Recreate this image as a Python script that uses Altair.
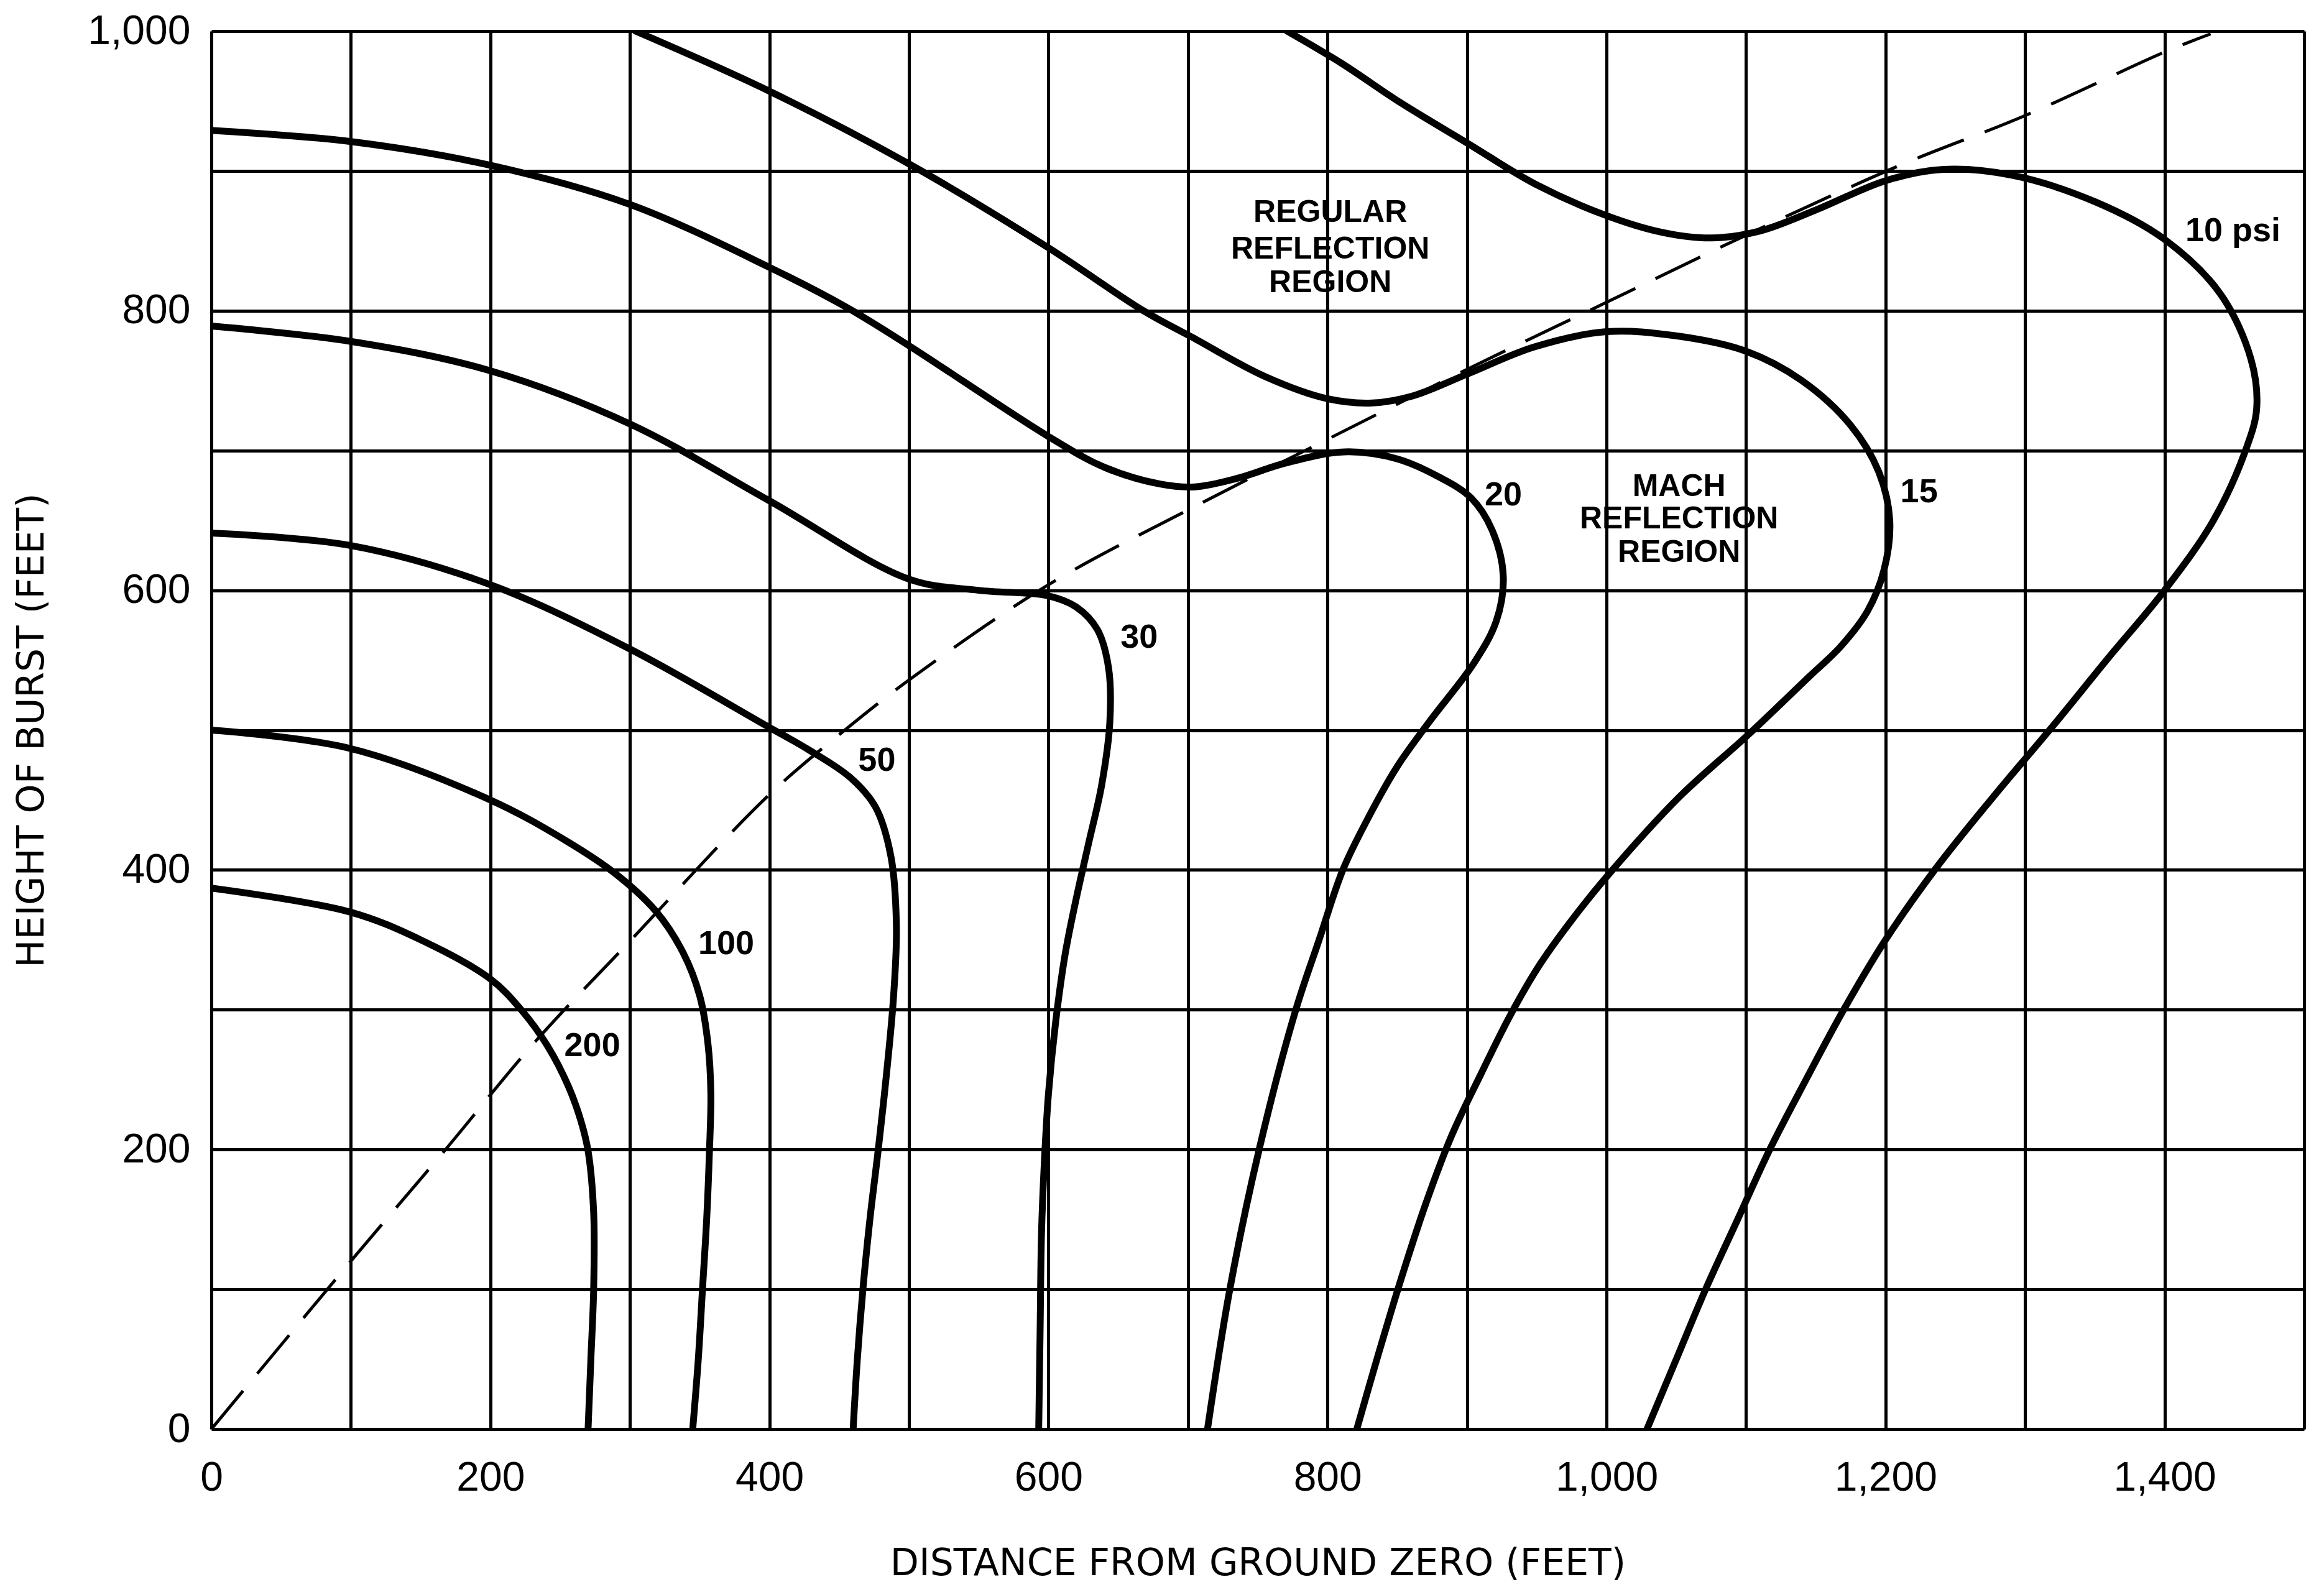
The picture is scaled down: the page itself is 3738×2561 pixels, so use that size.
import altair as alt
import pandas as pd

# ---- data (feet) ----
c200_x = [0, 99, 150, 200, 222, 241, 256, 265, 270, 274, 274, 272, 270]
c200_y = [387, 370, 350, 322, 300, 274, 245, 220, 199, 155, 100, 50, 0]

c100_x = [0, 99, 200, 254, 290, 319, 338, 350, 356, 358, 357, 355, 352, 349, 345]
c100_y = [500, 487, 450, 421, 397, 370, 341, 310, 275, 240, 199, 150, 100, 50, 0]

c50_x = [0, 100, 200, 300, 398, 428, 458, 476, 487, 491, 489, 484, 478, 472, 467, 463, 460]
c50_y = [641, 632, 604, 558, 503, 486, 466, 445, 410, 360, 310, 255, 200, 150, 100, 50, 0]

c30_x = [0, 100, 200, 300, 400, 500, 550, 600, 620, 635, 643, 644, 638, 629, 620, 612, 605, 600, 597, 595, 594, 593]
c30_y = [789, 778, 757, 719, 664, 608, 600, 596, 588, 572, 545, 506, 460, 420, 380, 340, 290, 240, 190, 140, 70, 0]

c20_x = [0, 100, 200, 300, 400, 456, 500, 600, 640, 680, 705, 735, 770, 812, 850, 880, 903,
         918, 926, 921, 905, 873, 850, 828, 811, 794, 777, 751, 730, 714]
c20_y = [929, 921, 904, 876, 831, 802, 775, 710, 688, 676, 674, 680, 691, 699, 694, 681, 666,
         643, 610, 578, 548, 506, 474, 435, 400, 350, 299, 200, 100, 0]

c15_x = [304, 400, 500, 600, 668, 703, 755, 800, 832, 861, 901, 948, 1000, 1050, 1100, 1140,
         1175, 1195, 1203, 1199, 1187, 1168, 1145, 1103, 1052, 1000, 975, 952, 931, 910, 889,
         870, 852, 836, 821]
c15_y = [1000, 957, 905, 845, 800, 781, 753, 737, 734, 739, 755, 774, 785, 782, 771, 750,
         718, 685, 650, 615, 585, 560, 538, 498, 452, 395, 364, 332, 296, 254, 210,
         160, 105, 52, 0]

c10_x = [771, 810, 852, 900, 950, 1000, 1040, 1075, 1110, 1150, 1200, 1240, 1290, 1350,
         1400, 1440, 1462, 1466, 1458, 1435, 1400, 1360, 1320, 1277, 1236, 1200, 1170, 1143,
         1117, 1094, 1071, 1050, 1029]
c10_y = [1000, 977, 949, 920, 890, 868, 856, 852, 857, 872, 893, 901, 897, 878,
         851, 812, 765, 730, 700, 650, 600, 552, 503, 452, 401, 350, 300, 250,
         200, 150, 100, 50, 0]

dash_x = [0, 99, 167, 232, 299, 399, 454, 503, 600, 703, 800, 900, 1000, 1100, 1208, 1301, 1400, 1433]
dash_y = [0, 119, 199, 277, 348, 453, 500, 538, 604, 659, 708, 758, 806, 854, 903, 940, 985, 998]

curve_names = ["200", "100", "50", "30", "20", "15", "10"]
curve_xs = [c200_x, c100_x, c50_x, c30_x, c20_x, c15_x, c10_x]
curve_ys = [c200_y, c100_y, c50_y, c30_y, c20_y, c15_y, c10_y]

label_text = ["200", "100", "50", "30", "20", "15", "10 psi"]
label_x = [273, 369, 477, 665, 926, 1224, 1449]
label_y = [274, 347, 478, 566, 668, 670, 857]

region_text = ["REGULAR", "REFLECTION", "REGION", "MACH", "REFLECTION", "REGION"]
region_x = [802, 802, 802, 1052, 1052, 1052]
region_y = [870, 844, 820, 674, 651, 627]

x_ticks = list(range(0, 1501, 100))
y_ticks = list(range(0, 1001, 100))

# ---- build tables ----
rows = []
for name, xs, ys in zip(curve_names, curve_xs, curve_ys):
    for i, (a, b) in enumerate(zip(xs, ys)):
        rows.append({"psi": name, "i": i, "x": a, "y": b})
curves = pd.DataFrame(rows)
dash = pd.DataFrame({"x": dash_x, "y": dash_y, "i": list(range(len(dash_x)))})
labels = pd.DataFrame({"t": label_text, "x": label_x, "y": label_y})
regions = pd.DataFrame({"t": region_text, "x": region_x, "y": region_y})

FONT = "Liberation Sans"
TFONT = "DejaVu Sans"

xscale = alt.Scale(domain=[0, 1500], nice=False, zero=False)
yscale = alt.Scale(domain=[0, 1000], nice=False, zero=False)

xaxis = alt.Axis(
    values=x_ticks,
    labelExpr="datum.value % 200 == 0 ? format(datum.value, ',') : ''",
    title="DISTANCE FROM GROUND ZERO (FEET)",
    grid=True, gridColor="black", gridWidth=5, gridOpacity=1,
    ticks=False, domain=False,
    labelFont=FONT, labelFontSize=66, labelColor="black", labelPadding=46,
    titleFont=TFONT, titleFontSize=60, titleFontWeight="normal", titleColor="black",
    titlePadding=76, labelFlush=False, labelOverlap=False,
)
yaxis = alt.Axis(
    values=y_ticks,
    labelExpr="datum.value % 200 == 0 ? format(datum.value, ',') : ''",
    title="HEIGHT OF BURST (FEET)",
    grid=True, gridColor="black", gridWidth=5, gridOpacity=1,
    ticks=False, domain=False,
    labelFont=FONT, labelFontSize=66, labelColor="black", labelPadding=34,
    titleFont=TFONT, titleFontSize=60, titleFontWeight="normal", titleColor="black",
    titlePadding=58, labelFlush=False, labelOverlap=False,
)

lines = alt.Chart(curves).mark_line(
    color="black", strokeWidth=11, interpolate="catmull-rom", clip=True,
    strokeCap="round", strokeJoin="round"
).encode(
    x=alt.X("x:Q", scale=xscale, axis=xaxis),
    y=alt.Y("y:Q", scale=yscale, axis=yaxis),
    detail="psi:N",
    order="i:Q",
)

dashed = alt.Chart(dash).mark_line(
    color="black", strokeWidth=5, strokeDash=[80, 36], interpolate="catmull-rom", clip=True
).encode(
    x=alt.X("x:Q", scale=xscale),
    y=alt.Y("y:Q", scale=yscale),
    order="i:Q",
)

lab = alt.Chart(labels).mark_text(
    font=FONT, fontSize=54, fontWeight="bold", color="black", align="center", baseline="middle"
).encode(x=alt.X("x:Q", scale=xscale), y=alt.Y("y:Q", scale=yscale), text="t:N")

reg = alt.Chart(regions).mark_text(
    font=FONT, fontSize=50, fontWeight="bold", color="black", align="center", baseline="middle"
).encode(x=alt.X("x:Q", scale=xscale), y=alt.Y("y:Q", scale=yscale), text="t:N")

chart = alt.layer(lines, dashed, lab, reg).properties(
    width=3366, height=2249,
    autosize=alt.AutoSizeParams(type="none"),
    padding={"left": 340, "top": 50, "right": 32, "bottom": 262},
).configure_view(
    stroke="black", strokeWidth=10
).configure(background="white")

chart.save("out.html", embed_options={"renderer": "svg", "actions": False})
